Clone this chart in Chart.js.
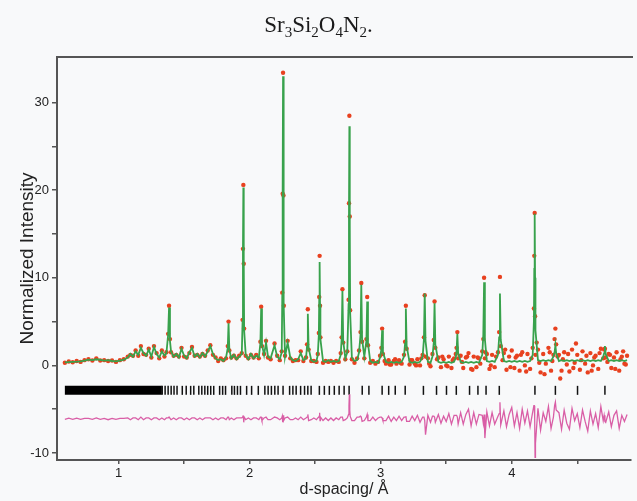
<!DOCTYPE html>
<html>
<head>
<meta charset="utf-8">
<script src="https://cdn.jsdelivr.net/npm/chart.js@4.4.0/dist/chart.umd.min.js"></script>
<style>
    html, body { margin: 0; padding: 0; background: #f8f9fa; }
    #wrap { position: relative; width: 637px; height: 501px; }
    #titulo {
        position: absolute; left: 0; top: 12px; width: 637px;
        text-align: center; color: #1a1a1a;
        font-family: 'Liberation Serif', 'Times New Roman', serif; font-size: 23px;
    }
    #titulo sub { font-size: 15px; vertical-align: -5px; line-height: 0; }
    canvas { position: absolute; left: 0; top: 0; }
</style>
</head>
<body>
<div id="wrap">
    <canvas id="grafica" width="637" height="501"></canvas>
    <div id="titulo">Sr<sub>3</sub>Si<sub>2</sub>O<sub>4</sub>N<sub>2</sub>.</div>
</div>
<script>
// d-spacing (Å) of each profile point
const dSpacing = [
    0.59, 0.62, 0.65, 0.68, 0.71, 0.74, 0.77, 0.80, 0.83, 0.86, 0.89, 0.92, 0.95, 0.98, 1.01, 1.04,
    1.07, 1.09, 1.11, 1.13, 1.15, 1.17, 1.19, 1.21, 1.23, 1.25, 1.27, 1.29, 1.31, 1.33, 1.35, 1.365,
    1.378, 1.385, 1.392,
    1.40, 1.42, 1.44, 1.46, 1.48, 1.50, 1.52, 1.54, 1.56, 1.58, 1.60,
    1.62, 1.64, 1.66, 1.68, 1.70, 1.72, 1.74, 1.76, 1.78, 1.80, 1.82,
    1.833, 1.839, 1.845,
    1.86, 1.88, 1.90, 1.92, 1.94,
    1.946, 1.949, 1.952, 1.955, 1.958,
    1.97, 1.99, 2.01, 2.03, 2.05, 2.07,
    2.082, 2.088, 2.094,
    2.11, 2.125, 2.14, 2.16, 2.19, 2.21, 2.23, 2.245,
    2.249, 2.252, 2.255, 2.258, 2.261,
    2.27, 2.29, 2.31, 2.33, 2.35, 2.37, 2.39, 2.41, 2.43,
    2.438, 2.444, 2.450,
    2.47, 2.49, 2.51, 2.52,
    2.528, 2.531, 2.534, 2.537, 2.540,
    2.56, 2.58, 2.60, 2.62, 2.64, 2.66, 2.68, 2.695,
    2.702, 2.708, 2.714,
    2.73, 2.745,
    2.755, 2.758, 2.761, 2.764, 2.767,
    2.78, 2.80, 2.82, 2.835,
    2.846, 2.852, 2.858,
    2.875,
    2.891, 2.897, 2.903,
    2.92, 2.94, 2.96, 2.98, 2.995,
    3.005, 3.011, 3.017,
    3.04, 3.06, 3.08, 3.10, 3.12, 3.14, 3.16, 3.178,
    3.186, 3.192, 3.198,
    3.22, 3.24, 3.26, 3.28, 3.30, 3.32,
    3.330, 3.336, 3.342,
    3.36, 3.38, 3.395,
    3.405, 3.411, 3.417,
    3.44, 3.46, 3.48, 3.50, 3.52, 3.54, 3.56, 3.573,
    3.579, 3.585, 3.591,
    3.61, 3.63, 3.65, 3.67, 3.69, 3.71, 3.73, 3.75, 3.775,
    3.783, 3.789, 3.795,
    3.81, 3.83, 3.85, 3.87, 3.895,
    3.904, 3.910, 3.916,
    3.94, 3.96, 3.98, 4.00, 4.02, 4.04, 4.06, 4.08, 4.10, 4.12, 4.14, 4.16,
    4.169, 4.172, 4.175, 4.178, 4.181,
    4.20, 4.22, 4.24, 4.26, 4.28, 4.30, 4.318,
    4.327, 4.333, 4.339,
    4.36, 4.38, 4.40, 4.42, 4.44, 4.46, 4.48, 4.50, 4.52, 4.54, 4.56, 4.58, 4.60, 4.62, 4.64, 4.66, 4.68, 4.698,
    4.705, 4.711, 4.717,
    4.74, 4.76, 4.78, 4.80, 4.82, 4.84, 4.86, 4.88
];

// observed intensity (red dots)
const observado = [
    0.30, 0.45, 0.35, 0.50, 0.40, 0.60, 0.70, 0.55, 0.80, 0.55, 0.60, 0.50, 0.55, 0.40, 0.60, 0.70,
    1.0, 1.2, 1.1, 1.7, 1.1, 2.2, 1.3, 1.2, 1.9, 0.9, 2.2, 1.4, 0.8, 1.7, 1.0, 1.5,
    3.6, 6.8, 3.0,
    1.5, 1.1, 1.2, 1.0, 2.0, 1.0, 0.9, 1.4, 2.1, 1.1, 1.2,
    1.0, 1.3, 1.1, 1.7, 2.3, 1.2, 0.9, 0.5, 0.8, 0.6, 0.8,
    2.2, 5.0, 1.7,
    0.9, 1.1, 0.8, 1.1, 1.4,
    5.2, 13.3, 20.6, 11.6, 4.2,
    1.1, 0.8, 1.2, 0.9, 1.2, 0.8,
    2.7, 6.7, 2.2,
    1.3, 2.8, 0.9, 0.7, 2.5, 1.1, 0.6, 1.6,
    8.3, 19.6, 33.4, 19.4, 6.8,
    1.1, 2.8, 0.8, 0.5, 0.6, 0.6, 1.6, 0.5, 0.9,
    2.4, 6.4, 1.8,
    0.5, 0.5, 0.4, 1.3,
    3.7, 7.8, 12.5, 6.8, 3.2,
    0.3, 0.5, 0.4, 0.5, 0.3, 0.5, 0.4, 1.4,
    3.2, 8.7, 2.6,
    0.7, 1.6,
    7.5, 18.5, 28.5, 17.0, 6.3,
    0.7, 0.3, 0.8, 1.7,
    3.8, 9.4, 2.7,
    0.8,
    3.0, 7.8, 2.3,
    0.3, 0.5, 0.2, 0.4, 1.1,
    2.0, 4.2, 1.3,
    0.2, 0.6, 0.1, 0.5, 0.2, 0.6, 0.2, 1.2,
    2.7, 6.8, 1.9,
    0.1, 0.6, 0.2, 0.7, 0.0, 1.2,
    3.2, 8.0, 1.0,
    0.8, -0.1, 1.3,
    2.9, 7.3, 2.0,
    0.9, -0.2, 0.7, 0.0, 1.0, -0.3, 0.8, 1.3,
    2.0, 3.8, 0.8,
    1.1, -0.3, 0.9, 1.4, -0.4, 1.0, -0.2, 0.8, 1.6,
    3.0, 10.0, 0.8,
    1.3, -0.4, 1.2, -0.2, 1.5,
    3.8, 10.1, 2.2,
    1.4, -0.5, 1.0, 1.7, -0.3, 1.1, -0.6, 1.5, 0.0, 1.3, -0.4, 2.0,
    6.5, 12.5, 17.4, 5.6, 1.2,
    1.8, -0.8, 1.3, 0.2, 2.0, -0.6, 1.2,
    3.0, 4.2, 2.4,
    1.2, -0.6, 1.5, 0.1, -0.7, 1.8, 0.3, 1.2, -0.5, 1.6, 0.2, -0.8, 1.4, 0.0, 1.1, -0.4, 1.9, 0.8,
    1.8, 1.9, 0.9,
    1.3, -0.3, 0.9, 1.5, -0.6, 1.0, 0.2, 1.1
];

// extra observed points between the profile points (noisy long-d range)
const dObsExtra = [
    3.03, 3.07, 3.11, 3.15, 3.23, 3.27, 3.31, 3.37, 3.43, 3.47,
    3.51, 3.55, 3.62, 3.66, 3.70, 3.74, 3.76, 3.80, 3.84, 3.88,
    3.93, 3.95, 3.99, 4.03, 4.07, 4.11, 4.15, 4.19, 4.21, 4.25,
    4.29, 4.31, 4.35, 4.37, 4.39, 4.43, 4.47, 4.49, 4.53, 4.57,
    4.61, 4.63, 4.67, 4.73, 4.75, 4.79, 4.83, 4.85, 4.87
];
const obsExtra = [
    0.5, 0.1, 0.7, 0.3, 0.6, 0.0, 0.8, 0.2, 0.7, 1.0,
    -0.1, 0.6, 0.4, 1.0, -0.5, 0.9, 0.2, 1.5, 0.0, 1.0,
    0.6, 1.8, -0.2, 0.9, 1.2, -0.7, 0.8, 2.6, 0.3, -1.0,
    1.5, 0.5, 1.0, -1.5, 0.7, 1.3, -0.3, 2.5, 0.6, 1.1,
    -0.6, 0.9, 1.4, 0.4, 1.2, -0.4, 0.7, 1.6, 0.1
];

// calculated profile (green line)
const calculado = [
    0.35, 0.38, 0.40, 0.42, 0.45, 0.55, 0.65, 0.60, 0.70, 0.62, 0.55, 0.60, 0.50, 0.45, 0.55, 0.65,
    0.9, 1.3, 1.0, 1.6, 1.2, 2.0, 1.4, 1.1, 1.8, 1.0, 2.1, 1.3, 0.9, 1.6, 1.1, 1.4,
    3.5, 6.6, 2.8,
    1.6, 1.0, 1.3, 0.9, 1.9, 1.1, 0.8, 1.5, 2.0, 1.0, 1.3,
    0.9, 1.4, 1.0, 1.6, 2.2, 1.3, 0.8, 0.6, 0.7, 0.5, 0.9,
    2.0, 4.8, 1.8,
    0.8, 1.2, 0.7, 1.0, 1.3,
    5.0, 13.0, 20.3, 12.0, 4.0,
    1.2, 0.7, 1.3, 0.8, 1.1, 0.9,
    2.5, 6.5, 2.4,
    1.2, 2.6, 1.0, 0.8, 2.3, 1.0, 0.7, 1.5,
    8.0, 20.0, 33.0, 19.0, 7.0,
    1.0, 2.6, 0.9, 0.6, 0.5, 0.7, 1.4, 0.6, 0.8,
    2.2, 5.9, 2.0,
    0.6, 0.4, 0.5, 1.2,
    3.5, 7.5, 11.8, 7.0, 3.0,
    0.5, 0.4, 0.6, 0.4, 0.5, 0.4, 0.5, 1.2,
    3.0, 8.5, 2.8,
    0.8, 1.5,
    7.0, 17.0, 27.3, 16.0, 6.0,
    0.9, 0.5, 0.6, 1.5,
    3.5, 9.2, 3.0,
    1.0,
    2.8, 7.3, 2.5,
    0.5, 0.3, 0.4, 0.3, 0.9,
    1.8, 4.0, 1.5,
    0.4, 0.3, 0.4, 0.3, 0.4, 0.3, 0.4, 1.0,
    2.5, 6.5, 2.2,
    0.4, 0.3, 0.4, 0.3, 0.4, 1.0,
    3.0, 8.2, 2.8,
    0.4, 0.3, 1.0,
    2.6, 7.1, 2.4,
    0.4, 0.3, 0.4, 0.3, 0.4, 0.3, 0.4, 0.9,
    1.6, 3.6, 1.4,
    0.4, 0.3, 0.4, 0.3, 0.4, 0.3, 0.4, 0.3, 1.2,
    3.5, 9.5, 3.0,
    0.5, 0.4, 0.5, 0.4, 1.2,
    3.2, 8.2, 2.9,
    0.5, 0.4, 0.5, 0.4, 0.5, 0.4, 0.5, 0.4, 0.5, 0.4, 0.5, 1.2,
    5.0, 11.0, 17.3, 10.0, 4.0,
    0.6, 0.5, 0.6, 0.5, 0.6, 0.5, 1.0,
    1.5, 2.3, 1.4,
    0.5, 0.6, 0.5, 0.6, 0.5, 0.6, 0.5, 0.6, 0.5, 0.6, 0.5, 0.6, 0.5, 0.6, 0.5, 0.6, 0.5, 1.0,
    1.4, 2.2, 1.3,
    0.5, 0.6, 0.5, 0.6, 0.5, 0.6, 0.5, 0.6
];

// difference curve, already shifted down (pink line)
const diferencia = [
    -6.15, -6.03, -6.15, -6.02, -6.15, -6.05, -6.05, -6.15, -6.0, -6.17, -6.05, -6.2, -6.05, -6.15, -6.05, -6.05,
    -6.0, -6.2, -6.0, -6.0, -6.2, -5.9, -6.2, -6.0, -6.0, -6.2, -6.0, -6.0, -6.2, -6.0, -6.2, -6.0,
    -6.0, -5.9, -5.9,
    -6.2, -6.0, -6.2, -6.0, -6.0, -6.2, -6.0, -6.2, -6.0, -6.0, -6.2,
    -6.0, -6.2, -6.0, -6.0, -6.0, -6.2, -6.0, -6.2, -6.0, -6.0, -6.2,
    -5.9, -5.9, -6.2,
    -6.0, -6.2, -6.0, -6.0, -6.0,
    -5.9, -5.8, -5.8, -6.5, -5.9,
    -6.2, -6.0, -6.2, -6.0, -6.0, -6.2,
    -5.9, -5.9, -6.3,
    -6.0, -5.9, -6.2, -6.2, -5.9, -6.0, -6.2, -6.0,
    -5.8, -6.5, -5.7, -5.7, -6.3,
    -6.0, -5.9, -6.2, -6.2, -6.0, -6.2, -5.9, -6.2, -6.0,
    -5.9, -5.6, -6.3,
    -6.2, -6.0, -6.2, -6.0,
    -5.9, -5.8, -5.4, -6.3, -5.9,
    -6.3, -6.0, -6.3, -6.0, -6.3, -6.0, -6.2, -5.9,
    -5.9, -5.9, -6.3,
    -6.2, -6.0,
    -5.6, -4.6, -3.3, -5.1, -5.8,
    -6.3, -6.3, -5.9, -5.9,
    -5.8, -5.9, -6.4,
    -6.3,
    -5.9, -5.6, -6.3,
    -6.3, -5.9, -6.3, -6.0, -5.9,
    -5.9, -6.0, -6.3,
    -6.3, -5.8, -6.4, -5.9, -6.3, -5.8, -6.3, -5.9,
    -5.9, -5.8, -6.4,
    -6.4, -5.8, -6.3, -5.7, -6.5, -5.9,
    -5.9, -6.3, -7.9,
    -5.7, -6.5, -5.8,
    -5.8, -5.9, -6.5,
    -5.6, -6.6, -5.8, -6.4, -5.5, -6.7, -5.7, -5.7,
    -5.7, -5.9, -6.7,
    -5.4, -6.7, -5.6, -5.0, -6.9, -5.4, -6.7, -5.6, -5.7,
    -6.6, -5.6, -8.3,
    -5.3, -6.9, -5.4, -6.7, -5.8,
    -5.5, -4.2, -6.8,
    -5.2, -7.0, -5.6, -4.8, -6.9, -5.4, -7.2, -5.0, -6.6, -5.2, -7.0, -5.3,
    -4.6, -4.6, -6.0, -10.5, -8.9,
    -4.9, -7.4, -5.4, -6.4, -4.7, -7.2, -5.9,
    -4.6, -4.2, -5.1,
    -5.4, -7.3, -5.1, -6.6, -7.3, -4.9, -6.3, -5.5, -7.1, -5.1, -6.4, -7.5, -5.2, -6.7, -5.5, -7.1, -4.7, -6.3,
    -5.7, -6.4, -6.5,
    -5.3, -7.0, -5.7, -5.2, -7.2, -5.7, -6.4, -5.6
];

// reflection positions (tick row); below 1.33 Å they merge into a solid bar
const reflexiones = [
    1.333, 1.355, 1.378, 1.401, 1.423, 1.446, 1.486, 1.516, 1.550, 1.574,
    1.612, 1.635, 1.658, 1.680, 1.703, 1.726, 1.771, 1.794, 1.816,
    1.864, 1.884, 1.907, 1.930, 1.977, 2.015, 2.066, 2.116, 2.141, 2.166, 2.192,
    2.217, 2.255, 2.305, 2.330, 2.355, 2.389, 2.419, 2.444, 2.469,
    2.532, 2.570, 2.608, 2.646, 2.683, 2.721, 2.759, 2.859, 2.910,
    3.011, 3.061, 3.111, 3.187, 3.326, 3.426, 3.502, 3.577, 3.678, 3.742, 3.804, 3.905,
    4.177, 4.333, 4.502, 4.711
];
const reflexionesDensas = [0.59, 1.33];
const filaReflexiones = -2.85;

const ticksX = [1, 1.5, 2, 2.5, 3, 3.5, 4, 4.5];
const ticksY = [-10, -5, 0, 5, 10, 15, 20, 25, 30];

(function() {

    const grafica = document.querySelector('#grafica');

    const fondo = {
        id: 'fondo',
        beforeDraw(chart) {
            const {ctx, width, height} = chart;
            ctx.save();
            ctx.fillStyle = '#f8f9fa';
            ctx.fillRect(0, 0, width, height);
            ctx.restore();
        }
    };

    // top edge of the frame (right edge is cut off in the original)
    const marcoSuperior = {
        id: 'marcoSuperior',
        afterDraw(chart) {
            const {ctx, chartArea} = chart;
            ctx.save();
            ctx.strokeStyle = '#555';
            ctx.lineWidth = 2;
            ctx.beginPath();
            ctx.moveTo(chartArea.left - 1, chartArea.top);
            ctx.lineTo(chartArea.right + 2, chartArea.top);
            ctx.stroke();
            ctx.restore();
        }
    };

    const fuente = "'Liberation Sans', Arial, sans-serif";
    const rojo = '#e8411f';

    new Chart(grafica, {
        type: 'scatter',
        data: {
            datasets: [
                {
                    type: 'line',
                    label: 'calc',
                    data: dSpacing.map((d, i) => ({x: d, y: calculado[i]})),
                    borderColor: '#38a24c',
                    borderWidth: 1.8,
                    pointRadius: 0,
                    tension: 0,
                    order: 0
                },
                {
                    label: 'obs',
                    data: dSpacing.map((d, i) => ({x: d, y: observado[i]})),
                    backgroundColor: rojo,
                    borderWidth: 0,
                    pointRadius: 2.2,
                    order: 1
                },
                {
                    label: 'obs extra',
                    data: dObsExtra.map((d, i) => ({x: d, y: obsExtra[i]})),
                    backgroundColor: rojo,
                    borderWidth: 0,
                    pointRadius: 2.2,
                    order: 1
                },
                {
                    type: 'line',
                    label: 'diff',
                    data: dSpacing.map((d, i) => ({x: d, y: diferencia[i]})),
                    borderColor: '#d95ea6',
                    borderWidth: 1.3,
                    pointRadius: 0,
                    tension: 0,
                    order: 2
                },
                {
                    type: 'line',
                    label: 'hkl dense',
                    data: reflexionesDensas.map(d => ({x: d, y: filaReflexiones})),
                    borderColor: '#000',
                    borderWidth: 9,
                    borderCapStyle: 'butt',
                    pointRadius: 0,
                    order: 3
                },
                {
                    label: 'hkl',
                    data: reflexiones.map(d => ({x: d, y: filaReflexiones})),
                    pointStyle: 'line',
                    rotation: 90,
                    pointRadius: 4.5,
                    borderColor: '#111',
                    borderWidth: 1.5,
                    order: 3
                }
            ]
        },
        options: {
            responsive: false,
            animation: false,
            layout: {
                padding: {top: 57, right: 1, left: 0, bottom: 0}
            },
            scales: {
                x: {
                    type: 'linear',
                    min: 0.53,
                    max: 4.91,
                    afterFit: scale => { scale.height = 41; },
                    afterBuildTicks: scale => { scale.ticks = ticksX.map(v => ({value: v})); },
                    grid: {drawOnChartArea: false, drawTicks: true, tickLength: 4, color: '#555', lineWidth: 1.5},
                    border: {display: true, color: '#555', width: 2},
                    ticks: {
                        padding: 2,
                        color: '#222',
                        font: {family: fuente, size: 13},
                        maxRotation: 0,
                        autoSkip: false,
                        callback: v => Number.isInteger(v) ? v : ''
                    },
                    title: {
                        display: true,
                        text: 'd-spacing/ Å',
                        color: '#222',
                        font: {family: fuente, size: 16},
                        padding: {top: 0, bottom: 2}
                    }
                },
                y: {
                    min: -10.8,
                    max: 35.2,
                    afterFit: scale => { scale.width = 57; },
                    afterBuildTicks: scale => { scale.ticks = ticksY.map(v => ({value: v})); },
                    grid: {drawOnChartArea: false, drawTicks: true, tickLength: 5, color: '#555', lineWidth: 1.5},
                    border: {display: true, color: '#555', width: 2},
                    ticks: {
                        padding: 3,
                        color: '#222',
                        font: {family: fuente, size: 13},
                        autoSkip: false,
                        callback: v => v % 10 === 0 ? v : ''
                    },
                    title: {
                        display: true,
                        text: 'Normalized Intensity',
                        color: '#222',
                        font: {family: fuente, size: 19},
                        padding: {top: 16, bottom: 0}
                    }
                }
            },
            plugins: {
                legend: {display: false},
                tooltip: {enabled: false}
            }
        },
        plugins: [fondo, marcoSuperior]
    });

})();
</script>
</body>
</html>
